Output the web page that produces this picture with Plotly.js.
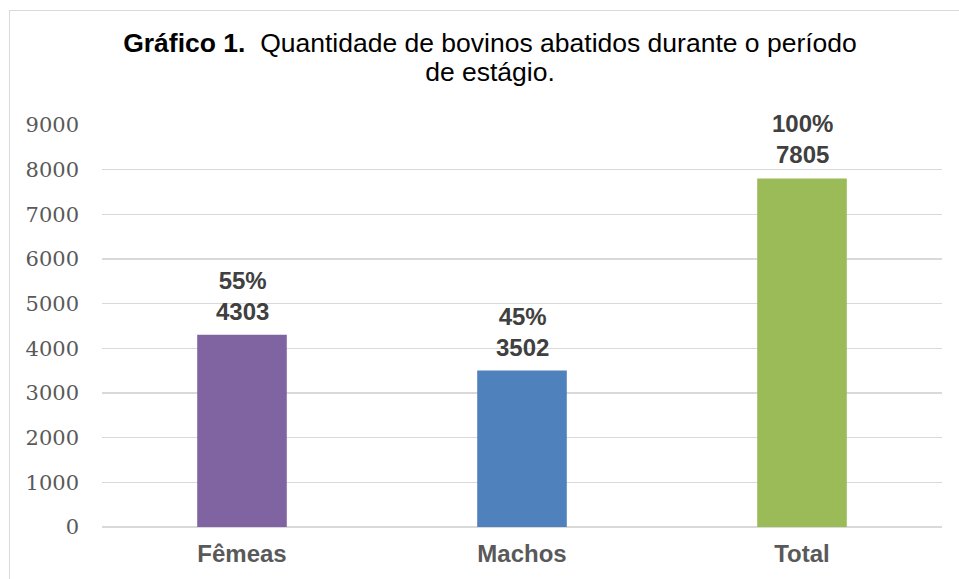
<!DOCTYPE html>
<html>
<head>
<meta charset="utf-8">
<script src="https://cdn.plot.ly/plotly-3.0.1.min.js"></script>
<style>
  html, body { margin: 0; padding: 0; background: #ffffff; }
  #frame { position: absolute; left: 9px; top: 10px; width: 1000px; height: 700px;
           border-top: 1px solid #D9D9D9; border-left: 1px solid #D9D9D9; box-sizing: border-box; }
  #chart { position: absolute; left: 0; top: 0; width: 959px; height: 579px; }
</style>
</head>
<body>
<div id="frame"></div>
<div id="chart"></div>
<script>
// Data
const categories = ["Fêmeas", "Machos", "Total"];
const values = [4303, 3502, 7805];
const percents = ["55%", "45%", "100%"];
const barColors = ["#8064A2", "#4F81BD", "#9BBB59"];
const yTickValues = [0, 1000, 2000, 3000, 4000, 5000, 6000, 7000, 8000, 9000];

const trace = {
  type: "bar",
  x: categories,
  y: values,
  width: 0.32,
  marker: { color: barColors, line: { width: 0 } },
  hoverinfo: "x+y"
};

const annotations = categories.map((c, i) => ({
  x: c,
  y: values[i],
  xref: "x",
  yref: "y",
  text: "<b>" + percents[i] + "<br>" + values[i] + "</b>",
  showarrow: false,
  yanchor: "bottom",
  xanchor: "center",
  yshift: 8,
  font: { family: "Liberation Sans, Arial, sans-serif", size: 24, color: "#404040" }
}));

const layout = {
  width: 959,
  height: 579,
  paper_bgcolor: "rgba(0,0,0,0)",
  plot_bgcolor: "rgba(0,0,0,0)",
  margin: { l: 102, r: 17, t: 125, b: 52 },
  showlegend: false,
  title: {
    text: "<span style=\"font-size:26.5px\"><b>Gráfico 1.</b>  Quantidade de bovinos abatidos durante o período</span><br><span style=\"font-size:26.5px\">de estágio.</span>",
    font: { family: "Liberation Sans, Arial, sans-serif", size: 22, color: "#000000" },
    x: 490 / 959,
    xref: "container",
    xanchor: "center",
    y: 1 - 52 / 579,
    yref: "container",
    yanchor: "top"
  },
  xaxis: {
    type: "category",
    showgrid: false,
    zeroline: false,
    showline: false,
    ticks: "",
    ticklabelstandoff: 10,
    tickfont: { family: "Liberation Sans, Arial, sans-serif", size: 24, color: "#595959", weight: "bold" }
  },
  yaxis: {
    range: [0, 9000],
    tickvals: yTickValues,
    ticktext: yTickValues.map(String),
    showgrid: true,
    gridcolor: "#D9D9D9",
    gridwidth: 1.5,
    zeroline: true,
    zerolinecolor: "#D9D9D9",
    zerolinewidth: 1.5,
    showline: false,
    ticks: "",
    ticklabelstandoff: 22,
    tickfont: { family: "DejaVu Serif, serif", size: 21, color: "#595959" }
  },
  annotations: annotations
};

Plotly.newPlot("chart", [trace], layout, { displayModeBar: false, staticPlot: true });
</script>
</body>
</html>
